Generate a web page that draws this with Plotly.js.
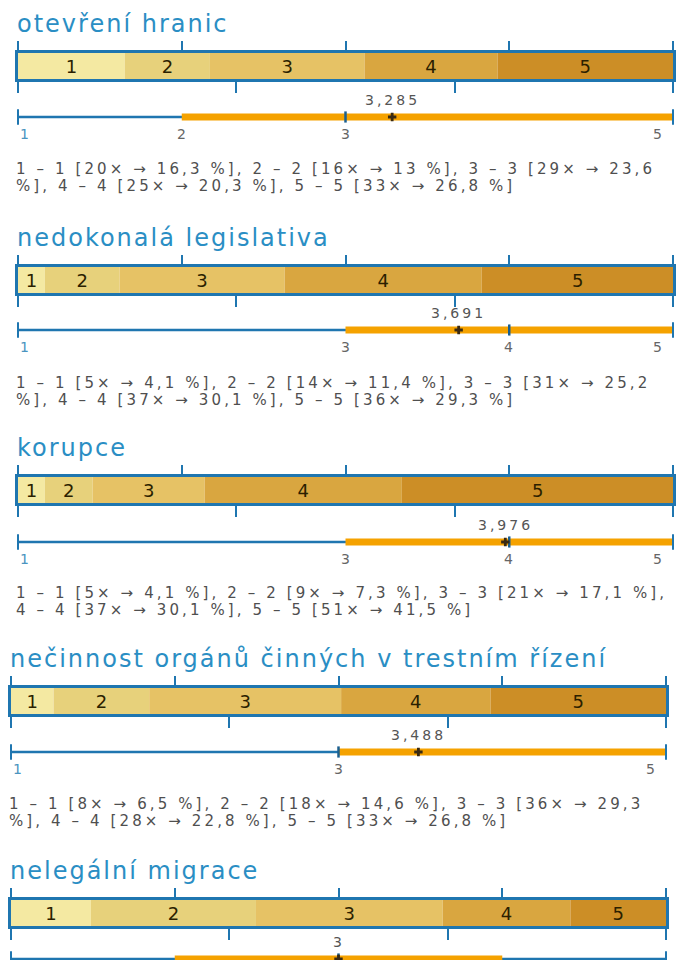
<!DOCTYPE html>
<html><head><meta charset="utf-8">
<script src="https://cdn.plot.ly/plotly-3.0.1.min.js"></script>
<style>
html,body{margin:0;padding:0;background:#fff;}
#chart{width:676px;height:960px;}
text.annotation-text[style*="font-size: 24px"]{letter-spacing:2px;}
text.annotation-text[style*="font-size: 15px"]{letter-spacing:3.1px;}
text.annotation-text[style*="font-size: 14px"]{letter-spacing:3px;}
</style></head><body><div id="chart"></div>
<script>
// ---------------- data ----------------
const titles = ["otevření hranic", "nedokonalá legislativa", "korupce",
  "nečinnost orgánů činných v trestním řízení", "nelegální migrace"];
const levels = [1, 2, 3, 4, 5];
const counts1 = [20, 16, 29, 25, 33];
const pct1 = [16.3, 13, 23.6, 20.3, 26.8];
const counts2 = [5, 14, 31, 37, 36];
const pct2 = [4.1, 11.4, 25.2, 30.1, 29.3];
const counts3 = [5, 9, 21, 37, 51];
const pct3 = [4.1, 7.3, 17.1, 30.1, 41.5];
const counts4 = [8, 18, 36, 28, 33];
const pct4 = [6.5, 14.6, 29.3, 22.8, 26.8];
const counts5 = null; // text for the last chart is cut off in the picture
const pct5 = [12.2, 25.2, 28.5, 19.5, 14.6];
const means = [3.285, 3.691, 3.976, 3.488, 3];
const meanLabels = ["3,285", "3,691", "3,976", "3,488", "3"];
const q1s = [2, 3, 3, 3, 2];
const medians = [3, 4, 4, 3, 3];
const q3s = [5, 5, 5, 5, 4];
const scaleMin = 1, scaleMax = 5;
const topTicks = [1, 2, 3, 4, 5];
const bottomTicks = [0, 33.33, 66.67, 100];

const countsAll = [counts1, counts2, counts3, counts4, counts5];
const pctAll = [pct1, pct2, pct3, pct4, pct5];

// ---------------- layout constants ----------------
const W = 676, H = 960;
const barTop = [53, 267, 477, 688, 900];
const barH = 26;
const lineY = [117, 330, 542, 752, 959];
const xL = [18, 18, 18, 11, 11], xR = [673, 673, 673, 666, 666];
const BLUE = '#1f76b0';
const segColors = ['#f4e9a2', '#e7d17b', '#e6c265', '#d9a640', '#cc8e26'];
const FONT = 'DejaVu Sans';
const LSP = {24: 2, 15: 3.1, 14: 3};
const TXT = 15;

const ctx = document.createElement('canvas').getContext('2d');
function textW(s, size) { ctx.font = size + 'px "' + FONT + '"'; return ctx.measureText(s).width + (LSP[size] || 0) * s.length; }
function wrap(s, size, maxW) {
  const words = s.split(' '); const lines = []; let cur = '';
  for (const w of words) {
    const t = cur ? cur + ' ' + w : w;
    if (!cur || textW(t, size) <= maxW) cur = t; else { lines.push(cur); cur = w; }
  }
  if (cur) lines.push(cur);
  return lines;
}
const fmt = v => String(v).replace('.', ',');
const py = y => 1 - y / H;
const xid = n => 'x' + (n === 1 ? '' : n);
const yid = n => 'y' + (n === 1 ? '' : n);
const xkey = n => 'xaxis' + (n === 1 ? '' : n);
const ykey = n => 'yaxis' + (n === 1 ? '' : n);

const data = [];
const layout = {
  width: W, height: H, margin: {l: 0, r: 0, t: 0, b: 0},
  paper_bgcolor: '#ffffff', plot_bgcolor: 'rgba(0,0,0,0)',
  showlegend: false, font: {family: FONT}, annotations: [], hovermode: false
};

titles.forEach((title, k) => {
  const xb = 3 * k + 1, xt = 3 * k + 2, xl = 3 * k + 3, yb = 2 * k + 1, yl = 2 * k + 2;
  const dom = [xL[k] / W, xR[k] / W];
  const pct = pctAll[k];
  const cum = []; pct.reduce((a, v, i) => { cum[i] = a; return a + v; }, 0);

  layout[xkey(xb)] = {domain: dom, anchor: yid(yb), range: [0, 100], showgrid: false, zeroline: false,
    showline: true, linecolor: BLUE, linewidth: 3, ticks: 'outside', tickvals: bottomTicks,
    ticklen: 11, tickwidth: 2, tickcolor: BLUE, showticklabels: false, fixedrange: true};
  layout[xkey(xt)] = {domain: dom, anchor: yid(yb), overlaying: xid(xb), side: 'top', range: [scaleMin, scaleMax],
    showgrid: false, zeroline: false, showline: true, linecolor: BLUE, linewidth: 3, ticks: 'outside',
    tickvals: topTicks, ticklen: 9, tickwidth: 2, tickcolor: BLUE, showticklabels: false, fixedrange: true};
  layout[ykey(yb)] = {domain: [py(barTop[k] + barH), py(barTop[k])], anchor: xid(xb), range: [-0.5, 0.5],
    showgrid: false, zeroline: false, showline: true, mirror: true, linecolor: BLUE, linewidth: 3,
    ticks: '', showticklabels: false, fixedrange: true};

  const lb = Math.min(lineY[k] + 10, H), lt = lineY[k] - 10;
  layout[xkey(xl)] = {domain: dom, anchor: yid(yl), range: [scaleMin, scaleMax], visible: false, fixedrange: true};
  layout[ykey(yl)] = {domain: [py(lb), py(lt)], anchor: xid(xl), range: [(lineY[k] - lb) / 10, 1], visible: false, fixedrange: true};

  data.push({type: 'bar', orientation: 'h', x: pct, base: cum, y: pct.map(() => 0), width: pct.map(() => 1),
    xaxis: xid(xb), yaxis: yid(yb), marker: {color: segColors, line: {width: 0}},
    text: levels.map(String), textposition: 'inside', insidetextanchor: 'middle', textangle: 0,
    constraintext: 'none', textfont: {size: 18, color: '#2b1f00', family: FONT}, hoverinfo: 'skip'});
  data.push({type: 'scatter', mode: 'markers', x: [], y: [], xaxis: xid(xt), yaxis: yid(yb), hoverinfo: 'skip'});

  const ax = {xaxis: xid(xl), yaxis: yid(yl), hoverinfo: 'skip', cliponaxis: false};
  data.push(Object.assign({type: 'scatter', mode: 'lines', x: [scaleMin, scaleMax], y: [0, 0],
    line: {color: BLUE, width: 2.5}}, ax));
  data.push(Object.assign({type: 'scatter', mode: 'lines', x: [q1s[k], q3s[k]], y: [0, 0],
    line: {color: '#f5a200', width: 7}}, ax));
  data.push(Object.assign({type: 'scatter', mode: 'markers', x: [scaleMin, scaleMax], y: [0, 0],
    marker: {symbol: 'line-ns', size: 11, line: {color: BLUE, width: 2}}}, ax));
  data.push(Object.assign({type: 'scatter', mode: 'markers', x: [medians[k]], y: [0],
    marker: {symbol: 'line-ns', size: 8, line: {color: '#1b5f8f', width: 2.5}}}, ax));
  data.push(Object.assign({type: 'scatter', mode: 'markers', x: [means[k]], y: [0],
    marker: {symbol: 'cross', size: 7, color: '#3a2a12', line: {width: 0}}}, ax));

  // title
  layout.annotations.push({xref: 'paper', yref: 'paper', x: (xL[k] - 3) / W, y: py(barTop[k] - 29),
    xanchor: 'left', yanchor: 'middle', align: 'left', showarrow: false, text: title,
    font: {size: 24, color: '#2a8ec4', family: FONT}});
  // mean label
  layout.annotations.push({xref: xid(xl), yref: yid(yl), x: means[k], y: 0, yshift: 17,
    xanchor: 'center', yanchor: 'middle', showarrow: false, text: meanLabels[k],
    font: {size: 14, color: '#555555', family: FONT}});
  // scale labels (only where they fall inside the page)
  if (lineY[k] + 25 <= H) {
    const labs = [...new Set([scaleMin, q1s[k], medians[k], q3s[k], scaleMax])].sort((a, b) => a - b);
    labs.forEach(v => {
      layout.annotations.push({xref: xid(xl), yref: yid(yl), x: v, y: 0, yshift: -17,
        xanchor: v === scaleMin ? 'left' : (v === scaleMax ? 'right' : 'center'),
        xshift: v === scaleMin ? 0 : (v === scaleMax ? -6 : 1),
        yanchor: 'middle', showarrow: false, text: String(v),
        font: {size: 14, color: v === scaleMin ? '#4a94c0' : '#666666', family: FONT}});
    });
  }
  // frequency text
  const counts = countsAll[k];
  if (counts) {
    const s = levels.map((l, i) => `${l} – ${l} [${counts[i]}× → ${fmt(pct[i])} %]`).join(', ');
    wrap(s, TXT, 660).forEach((line, j) => {
      layout.annotations.push({xref: 'paper', yref: 'paper', x: (xL[k] - 4) / W, y: py(barTop[k] + 116 + j * 17),
        xanchor: 'left', yanchor: 'middle', align: 'left', showarrow: false, text: line,
        font: {size: TXT, color: '#4f4f4f', family: FONT}});
    });
  }
});

Plotly.newPlot('chart', data, layout, {staticPlot: true, displayModeBar: false});
</script></body></html>
